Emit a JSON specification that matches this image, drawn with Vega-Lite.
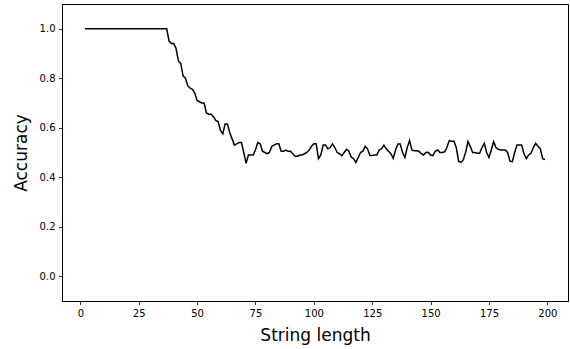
{
  "$schema": "https://vega.github.io/schema/vega-lite/v6.json",
  "width": 506,
  "height": 297,
  "autosize": {"type": "none"},
  "padding": {"left": 62, "top": 4, "right": 2, "bottom": 48},
  "background": "white",
  "config": {
    "view": {"stroke": "black", "strokeWidth": 1},
    "font": "DejaVu Sans",
    "axis": {
      "grid": false,
      "domainColor": "black",
      "domainWidth": 1,
      "tickColor": "black",
      "tickSize": 3.5,
      "tickWidth": 0.8,
      "labelFont": "DejaVu Sans",
      "labelFontSize": 10,
      "labelColor": "black",
      "labelPadding": 3.5,
      "titleFont": "DejaVu Sans",
      "titleFontSize": 17,
      "titleFontWeight": "normal",
      "titleColor": "black"
    }
  },
  "data": {
    "values": [
      {"length": 2, "accuracy": 1.0}, {"length": 3, "accuracy": 1.0}, {"length": 4, "accuracy": 1.0}, {"length": 5, "accuracy": 1.0},
      {"length": 6, "accuracy": 1.0}, {"length": 7, "accuracy": 1.0}, {"length": 8, "accuracy": 1.0}, {"length": 9, "accuracy": 1.0},
      {"length": 10, "accuracy": 1.0}, {"length": 11, "accuracy": 1.0}, {"length": 12, "accuracy": 1.0}, {"length": 13, "accuracy": 1.0},
      {"length": 14, "accuracy": 1.0}, {"length": 15, "accuracy": 1.0}, {"length": 16, "accuracy": 1.0}, {"length": 17, "accuracy": 1.0},
      {"length": 18, "accuracy": 1.0}, {"length": 19, "accuracy": 1.0}, {"length": 20, "accuracy": 1.0}, {"length": 21, "accuracy": 1.0},
      {"length": 22, "accuracy": 1.0}, {"length": 23, "accuracy": 1.0}, {"length": 24, "accuracy": 1.0}, {"length": 25, "accuracy": 1.0},
      {"length": 26, "accuracy": 1.0}, {"length": 27, "accuracy": 1.0}, {"length": 28, "accuracy": 1.0}, {"length": 29, "accuracy": 1.0},
      {"length": 30, "accuracy": 1.0}, {"length": 31, "accuracy": 1.0}, {"length": 32, "accuracy": 1.0}, {"length": 33, "accuracy": 1.0},
      {"length": 34, "accuracy": 1.0}, {"length": 35, "accuracy": 1.0}, {"length": 36, "accuracy": 1.0}, {"length": 37, "accuracy": 1.0},
      {"length": 38, "accuracy": 0.95}, {"length": 39, "accuracy": 0.94}, {"length": 40, "accuracy": 0.94}, {"length": 41, "accuracy": 0.92},
      {"length": 42, "accuracy": 0.87}, {"length": 43, "accuracy": 0.86}, {"length": 44, "accuracy": 0.81}, {"length": 45, "accuracy": 0.80},
      {"length": 46, "accuracy": 0.77}, {"length": 47, "accuracy": 0.76}, {"length": 48, "accuracy": 0.755}, {"length": 49, "accuracy": 0.74},
      {"length": 50, "accuracy": 0.71}, {"length": 51, "accuracy": 0.705}, {"length": 52, "accuracy": 0.70}, {"length": 53, "accuracy": 0.70},
      {"length": 54, "accuracy": 0.66}, {"length": 55, "accuracy": 0.655}, {"length": 56, "accuracy": 0.655}, {"length": 57, "accuracy": 0.645},
      {"length": 58, "accuracy": 0.63}, {"length": 59, "accuracy": 0.625}, {"length": 60, "accuracy": 0.59}, {"length": 61, "accuracy": 0.575},
      {"length": 62, "accuracy": 0.615}, {"length": 63, "accuracy": 0.615}, {"length": 64, "accuracy": 0.58}, {"length": 65, "accuracy": 0.555},
      {"length": 66, "accuracy": 0.53}, {"length": 67, "accuracy": 0.535}, {"length": 68, "accuracy": 0.54}, {"length": 69, "accuracy": 0.54},
      {"length": 70, "accuracy": 0.50}, {"length": 71, "accuracy": 0.456}, {"length": 72, "accuracy": 0.49}, {"length": 73, "accuracy": 0.49},
      {"length": 74, "accuracy": 0.49}, {"length": 75, "accuracy": 0.51}, {"length": 76, "accuracy": 0.54}, {"length": 77, "accuracy": 0.535},
      {"length": 78, "accuracy": 0.505}, {"length": 79, "accuracy": 0.50}, {"length": 80, "accuracy": 0.495}, {"length": 81, "accuracy": 0.50},
      {"length": 82, "accuracy": 0.525}, {"length": 83, "accuracy": 0.53}, {"length": 84, "accuracy": 0.535}, {"length": 85, "accuracy": 0.535},
      {"length": 86, "accuracy": 0.505}, {"length": 87, "accuracy": 0.505}, {"length": 88, "accuracy": 0.51}, {"length": 89, "accuracy": 0.505},
      {"length": 90, "accuracy": 0.505}, {"length": 91, "accuracy": 0.495}, {"length": 92, "accuracy": 0.485}, {"length": 93, "accuracy": 0.485},
      {"length": 94, "accuracy": 0.49}, {"length": 95, "accuracy": 0.49}, {"length": 96, "accuracy": 0.495}, {"length": 97, "accuracy": 0.50},
      {"length": 98, "accuracy": 0.51}, {"length": 99, "accuracy": 0.525}, {"length": 100, "accuracy": 0.535}, {"length": 101, "accuracy": 0.535},
      {"length": 102, "accuracy": 0.475}, {"length": 103, "accuracy": 0.49}, {"length": 104, "accuracy": 0.53}, {"length": 105, "accuracy": 0.53},
      {"length": 106, "accuracy": 0.515}, {"length": 107, "accuracy": 0.52}, {"length": 108, "accuracy": 0.535}, {"length": 109, "accuracy": 0.52},
      {"length": 110, "accuracy": 0.50}, {"length": 111, "accuracy": 0.495}, {"length": 112, "accuracy": 0.487}, {"length": 113, "accuracy": 0.50},
      {"length": 114, "accuracy": 0.513}, {"length": 115, "accuracy": 0.505}, {"length": 116, "accuracy": 0.482}, {"length": 117, "accuracy": 0.475},
      {"length": 118, "accuracy": 0.46}, {"length": 119, "accuracy": 0.48}, {"length": 120, "accuracy": 0.50}, {"length": 121, "accuracy": 0.505},
      {"length": 122, "accuracy": 0.525}, {"length": 123, "accuracy": 0.515}, {"length": 124, "accuracy": 0.488}, {"length": 125, "accuracy": 0.488},
      {"length": 126, "accuracy": 0.49}, {"length": 127, "accuracy": 0.49}, {"length": 128, "accuracy": 0.51}, {"length": 129, "accuracy": 0.515},
      {"length": 130, "accuracy": 0.53}, {"length": 131, "accuracy": 0.515}, {"length": 132, "accuracy": 0.505}, {"length": 133, "accuracy": 0.495},
      {"length": 134, "accuracy": 0.476}, {"length": 135, "accuracy": 0.51}, {"length": 136, "accuracy": 0.534}, {"length": 137, "accuracy": 0.534},
      {"length": 138, "accuracy": 0.50}, {"length": 139, "accuracy": 0.48}, {"length": 140, "accuracy": 0.52}, {"length": 141, "accuracy": 0.548},
      {"length": 142, "accuracy": 0.51}, {"length": 143, "accuracy": 0.507}, {"length": 144, "accuracy": 0.507}, {"length": 145, "accuracy": 0.505},
      {"length": 146, "accuracy": 0.495}, {"length": 147, "accuracy": 0.49}, {"length": 148, "accuracy": 0.50}, {"length": 149, "accuracy": 0.501},
      {"length": 150, "accuracy": 0.49}, {"length": 151, "accuracy": 0.487}, {"length": 152, "accuracy": 0.505}, {"length": 153, "accuracy": 0.51},
      {"length": 154, "accuracy": 0.50}, {"length": 155, "accuracy": 0.50}, {"length": 156, "accuracy": 0.503}, {"length": 157, "accuracy": 0.52},
      {"length": 158, "accuracy": 0.548}, {"length": 159, "accuracy": 0.545}, {"length": 160, "accuracy": 0.545}, {"length": 161, "accuracy": 0.52},
      {"length": 162, "accuracy": 0.465}, {"length": 163, "accuracy": 0.46}, {"length": 164, "accuracy": 0.47}, {"length": 165, "accuracy": 0.50},
      {"length": 166, "accuracy": 0.544}, {"length": 167, "accuracy": 0.525}, {"length": 168, "accuracy": 0.50}, {"length": 169, "accuracy": 0.50},
      {"length": 170, "accuracy": 0.497}, {"length": 171, "accuracy": 0.497}, {"length": 172, "accuracy": 0.52}, {"length": 173, "accuracy": 0.537},
      {"length": 174, "accuracy": 0.50}, {"length": 175, "accuracy": 0.48}, {"length": 176, "accuracy": 0.51}, {"length": 177, "accuracy": 0.544},
      {"length": 178, "accuracy": 0.52}, {"length": 179, "accuracy": 0.513}, {"length": 180, "accuracy": 0.51}, {"length": 181, "accuracy": 0.51},
      {"length": 182, "accuracy": 0.51}, {"length": 183, "accuracy": 0.50}, {"length": 184, "accuracy": 0.465}, {"length": 185, "accuracy": 0.463},
      {"length": 186, "accuracy": 0.50}, {"length": 187, "accuracy": 0.53}, {"length": 188, "accuracy": 0.53}, {"length": 189, "accuracy": 0.53},
      {"length": 190, "accuracy": 0.495}, {"length": 191, "accuracy": 0.476}, {"length": 192, "accuracy": 0.49}, {"length": 193, "accuracy": 0.497},
      {"length": 194, "accuracy": 0.52}, {"length": 195, "accuracy": 0.537}, {"length": 196, "accuracy": 0.525}, {"length": 197, "accuracy": 0.515},
      {"length": 198, "accuracy": 0.475}, {"length": 199, "accuracy": 0.472}
    ]
  },
  "mark": {"type": "line", "color": "black", "strokeWidth": 1.5, "interpolate": "linear"},
  "encoding": {
    "x": {
      "field": "length",
      "type": "quantitative",
      "scale": {"domain": [-7.85, 208.85], "nice": false, "zero": false},
      "axis": {"title": "String length", "values": [0, 25, 50, 75, 100, 125, 150, 175, 200], "titlePadding": 9}
    },
    "y": {
      "field": "accuracy",
      "type": "quantitative",
      "scale": {"domain": [-0.1, 1.1], "nice": false, "zero": false},
      "axis": {"title": "Accuracy", "values": [0, 0.2, 0.4, 0.6, 0.8, 1.0], "format": ".1f", "titlePadding": 9}
    }
  }
}
